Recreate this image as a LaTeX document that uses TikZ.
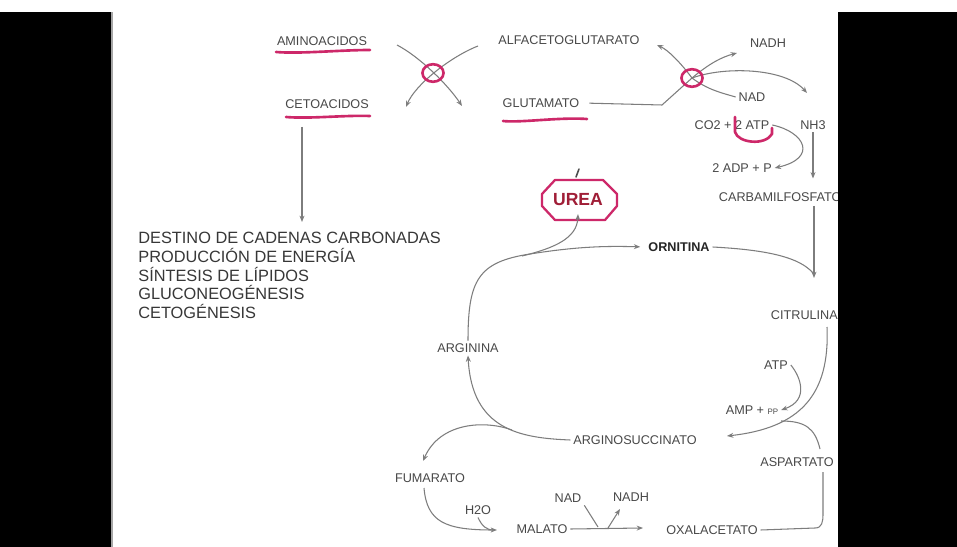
\documentclass[tikz,border=0pt]{standalone}
\usepackage{fontspec}
\setmainfont{Liberation Sans}
\usetikzlibrary{arrows.meta,calc}

\definecolor{linegray}{RGB}{125,125,125}
\definecolor{labelgray}{RGB}{72,72,72}
\definecolor{blocktext}{RGB}{55,55,55}
\definecolor{pen}{RGB}{205,40,105}
\definecolor{ureared}{RGB}{160,30,55}

\begin{document}
\begin{tikzpicture}[x=0.02cm,y=-0.02cm,
  >={Stealth[length=3.6pt,width=2.8pt]},
  flow/.style={draw=linegray, line width=.6pt},
  lbl/.style={text=labelgray, font=\fontsize{7.2}{8}\selectfont, inner sep=1.5pt},
  hand/.style={draw=pen, line width=1.5pt, line cap=round, line join=round}]
  \useasboundingbox (0,0) rectangle (957,547);
  \fill [white] (0,0) rectangle (957,547);

  % transaminacion
  \node [lbl] (amino) at (322,41) {AMINOACIDOS};
  \node [lbl] (ceto) at (327,104) {CETOACIDOS};
  \node [lbl] (alfa) at (569,40) {ALFACETOGLUTARATO};
  \node [lbl] (glut) at (541,103) {GLUTAMATO};
  \coordinate (j1) at (433,73);
  \coordinate (a1) at (397,45);
  \coordinate (a2) at (462,106);
  \coordinate (a3) at (478,46);
  \coordinate (a4) at (406,107);
  \draw [flow,->] (a1) .. controls (420,57) and (448,85) .. (a2);
  \draw [flow,->] (a3) .. controls (450,57) and (415,85) .. (a4);
  \draw [hand] (j1) ellipse [x radius=6pt, y radius=5pt];
  \draw [hand] (276,52) .. controls (300,54) and (340,50) .. (370,50);
  \draw [hand] (286,117) .. controls (310,119) and (345,115) .. (370,116);
  \draw [hand] (503,121) .. controls (520,123) and (560,117) .. (587,119);

  % cetoacidos
  \node [anchor=north west, align=left, inner sep=0pt, text=blocktext,
    font=\fontsize{9.3}{10.6}\selectfont] (dest) at (138,232)
    {DESTINO DE CADENAS CARBONADAS\\PRODUCCIÓN DE ENERGÍA\\SÍNTESIS DE LÍPIDOS\\GLUCONEOGÉNESIS\\CETOGÉNESIS};
  \coordinate (cetoOut) at (302,127);
  \coordinate (destIn) at (302,222);
  \draw [flow,->] (cetoOut) -- (destIn);

  % desaminacion oxidativa
  \node [lbl] (nadh1) at (768,43) {NADH};
  \node [lbl] (nad1) at (752,97) {NAD};
  \node [lbl] (co2) at (732,125) {CO2 + 2 ATP};
  \node [lbl] (nh3) at (813,125) {NH3};
  \node [lbl] (adp) at (742,168) {2 ADP + P};
  \node [lbl, anchor=west] (carb) at (716,197) {CARBAMILFOSFATO};
  \coordinate (j2) at (692,78);
  \coordinate (g1) at (662,105);
  \coordinate (alfaIn) at (657,45);
  \coordinate (nadhIn) at (737,53);
  \coordinate (nh3In) at (807,93);
  \draw [flow, shorten <=4pt] (glut.east) -- (g1) -- (j2);
  \draw [flow,->] (j2) .. controls (680,62) and (668,50) .. (alfaIn);
  \draw [flow,->] (j2) .. controls (710,63) and (722,57) .. (nadhIn);
  \draw [flow] (nad1.west) .. controls (722,93) and (708,90) .. (j2);
  \draw [flow,->] (j2) .. controls (725,66) and (785,68) .. (nh3In);
  \draw [hand] (j2) ellipse [x radius=6pt, y radius=5pt];
  \draw [flow,->] (co2.east) .. controls (805,132) and (818,158) .. (adp.east);
  \draw [hand] (735,117) -- (735,132) .. controls (738,143) and (765,146) .. (772,134) -- (772,128);
  \draw [flow,->] (nh3.south) -- ($(nh3.south)+(0,46)$);

  % ciclo de la urea
  \node [lbl, font=\bfseries\fontsize{10}{12}\selectfont, text=ureared] (urea) at (578,200) {UREA};
  \node [lbl, font=\bfseries\fontsize{7.2}{8}\selectfont, text=black!85] (orn) at (679,247) {ORNITINA};
  \node [lbl, anchor=west] (citr) at (768,315) {CITRULINA};
  \node [lbl] (argi) at (468,348) {ARGININA};
  \node [lbl] (atp) at (776,365) {ATP};
  \node [lbl] (amp) at (752,410) {AMP + {\fontsize{4.5}{5}\selectfont PP}};
  \node [lbl] (argsuc) at (635,440) {ARGINOSUCCINATO};
  \node [lbl] (asp) at (797,462) {ASPARTATO};
  \node [lbl] (fum) at (430,478) {FUMARATO};
  \node [lbl] (h2o) at (478,510) {H2O};
  \node [lbl] (nad2) at (568,498) {NAD};
  \node [lbl] (nadh2) at (631,497) {NADH};
  \node [lbl] (mal) at (542,529) {MALATO};
  \node [lbl] (oxa) at (712,530) {OXALACETATO};

  \draw [hand, line width=1.3pt, shift={(urea.center)}] (-36,-6) -- (-23,-20) -- (25,-20) -- (39,-6)
    -- (39,6) -- (27,20) -- (-23,20) -- (-36,6) -- cycle;
  \draw [line width=.9pt, draw=black!70, line cap=round] (576,177) -- (579,169);

  \coordinate (carbOut) at (814,206);
  \coordinate (citIn) at (814,278);
  \coordinate (citOut) at (827,327);
  \coordinate (argsucIn) at (727,436);
  \coordinate (ub) at (522,256);
  \coordinate (fb) at (512,430);
  \coordinate (aspOut) at (820,449);
  \coordinate (aspJoin) at (781,421);
  \coordinate (fumOut) at (424,488);
  \coordinate (malIn) at (497,530);
  \coordinate (oxaIn) at (643,528);
  \coordinate (nadJoin) at (598,527);
  \coordinate (nadhOut) at (608,528);
  \coordinate (nadhIn) at (620,509);

  \draw [flow,->] (carbOut) -- (citIn);
  \draw [flow] (orn.east) .. controls (770,250) and (800,258) .. (813,273);
  \draw [flow,->,shorten >=3pt] (argi.north) .. controls (468,280) and (478,262) .. (530,254)
    .. controls (580,246) and (610,246) .. (orn.west);
  \draw [flow,->] (ub) .. controls (555,248) and (577,238) .. ($(urea.south)+(0,5)$);
  \draw [flow,->] (citOut) .. controls (830,395) and (800,428) .. (argsucIn);
  \draw [flow,->] (atp.east) .. controls (800,376) and (810,400) .. (amp.east);
  \draw [flow] (aspOut) .. controls (815,428) and (805,421) .. (aspJoin);
  \draw [flow] (oxa.east) -- (815,528) .. controls (822,528) and (823,522) .. (823,514) -- (823,472);
  \draw [flow,->] (argsuc.west) .. controls (520,438) and (472,430) .. (argi.south);
  \draw [flow,->] (fb) .. controls (485,420) and (440,422) .. (423,461);
  \draw [flow,->] (fumOut) .. controls (427,522) and (445,530) .. (malIn);
  \draw [flow] (h2o.south) .. controls (482,526) and (486,530) .. (494,530);
  \draw [flow,->] (mal.east) -- (oxaIn);
  \draw [flow] (nad2.south east) -- (nadJoin);
  \draw [flow,->] (nadhOut) -- (nadhIn);

  % bandas negras
  \fill [black] (0,12) rectangle (111,547);
  \fill [black!35] (111,12) rectangle (113,547);
  \fill [black] (838,12) rectangle (957,547);
\end{tikzpicture}
\end{document}
